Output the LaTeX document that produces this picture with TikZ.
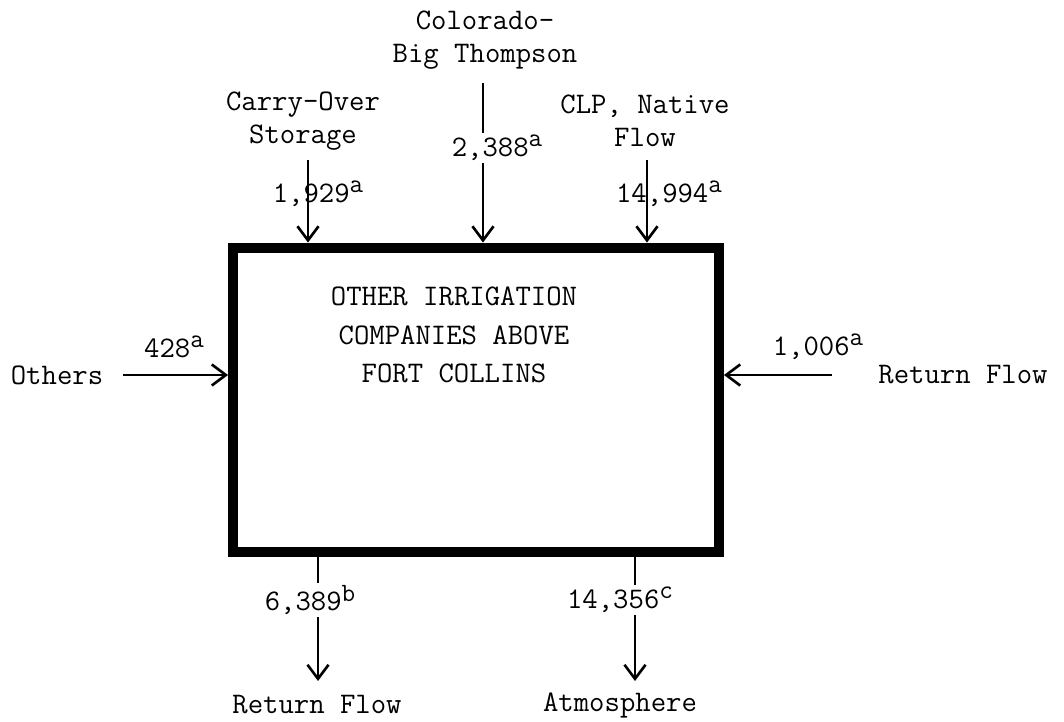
\documentclass[tikz,border=0pt]{standalone}
\usepackage{fontspec}
\usepackage{tikz}
\usetikzlibrary{arrows.meta,positioning}
\newcommand{\fnote}[1]{\raisebox{0.75ex}{\fontsize{15}{15}\selectfont#1}}

\begin{document}
\begin{tikzpicture}[
	x=0.02cm, y=-0.02cm,
	lbl/.style={
		font=\fontsize{17}{19}\selectfont\ttfamily, align=center, inner sep=1pt
	},
	basin/.style={
		draw, line width=5.7pt, minimum width=9.72cm, minimum height=6.1cm
	},
	wire/.style={line width=1.5pt},
	flow/.style={wire, -{Straight Barb[length=8pt,width=12pt,line width=1.5pt]}}
	]
	\useasboundingbox (0,0) rectangle (1064,722);

	\node[basin] (box) at (476,400) {};
	\node[lbl] (title) at (454,335)
		{OTHER IRRIGATION\\[3pt]COMPANIES ABOVE\\[3pt]FORT COLLINS};

	% inflows from above
	\node[lbl] (cos) at (303,121) {Carry-Over\\Storage};
	\node[lbl] (cbt) at (485,40) {Colorado-\\Big Thompson};
	\node[lbl] (clp) at (645,121) {CLP, Native\\Flow};
	\node[lbl] (cosN) at (318,194) {1,929\fnote{a}};
	\node[lbl] (cbtN) at (497,148) {2,388\fnote{a}};
	\node[lbl] (clpN) at (669,194) {14,994\fnote{a}};
	\coordinate (cosT) at (308,160);
	\coordinate (cbtT) at (483,83);
	\coordinate (clpT) at (647,160);

	\draw[flow] (cosT) -- (cosT |- box.north);
	\draw[wire] (cbtT) -- (cbtT |- cbtN.north);
	\draw[flow] (cbtT |- cbtN.south) -- (cbtT |- box.north);
	\draw[flow] (clpT) -- (clpT |- box.north);

	% side inflows
	\node[lbl] (oth) at (57,375) {Others};
	\node[lbl] (othN) at (174,347) {428\fnote{a}};
	\node[lbl] (ret) at (963,375) {Return Flow};
	\node[lbl] (retN) at (818,347) {1,006\fnote{a}};
	\coordinate (othT) at (123,375);
	\coordinate (retT) at (832,375);
	\draw[flow] (othT) -- (othT -| box.west);
	\draw[flow] (retT) -- (retT -| box.east);

	% outflows below
	\node[lbl] (rfN) at (310,600) {6,389\fnote{b}};
	\node[lbl] (atmN) at (620,600) {14,356\fnote{c}};
	\node[lbl] (rf) at (317,705) {Return Flow};
	\node[lbl] (atm) at (620,705) {Atmosphere};
	\coordinate (rfT) at (318,681);
	\coordinate (atmT) at (635,681);

	\foreach \t/\n in {rfT/rfN,atmT/atmN}{
		\draw[wire] (\t |- box.south) -- (\t |- \n.north);
		\draw[flow] (\t |- \n.south) -- (\t);
	}
\end{tikzpicture}
\end{document}
